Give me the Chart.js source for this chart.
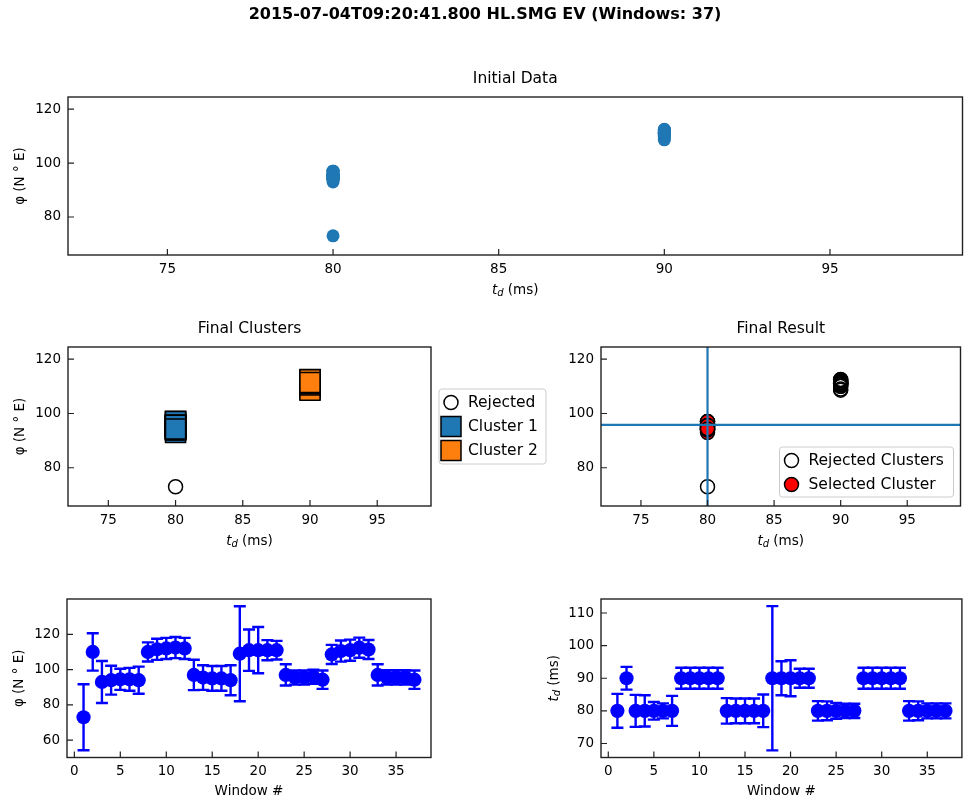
<!DOCTYPE html>
<html>
<head>
<meta charset="utf-8">
<title>HL.SMG EV windows</title>
<script src="https://cdn.jsdelivr.net/npm/chart.js@4.4.1/dist/chart.umd.min.js"></script>
<style>
  html, body { margin: 0; background: #fff; }
  #figure { position: relative; width: 969px; height: 800px; overflow: hidden; }
  #figure canvas { position: absolute; }
</style>
</head>
<body>
<div id="figure">
  <canvas id="initialChart" width="969" height="310" style="left:0;top:0"></canvas>
  <canvas id="clustersChart" width="560" height="250" style="left:0;top:310px"></canvas>
  <canvas id="resultChart" width="429" height="250" style="left:540px;top:310px"></canvas>
  <canvas id="phiChart" width="440" height="240" style="left:0;top:560px"></canvas>
  <canvas id="tdChart" width="429" height="240" style="left:540px;top:560px"></canvas>
</div>
<script>
// values per analysis window
const windows = [1, 2, 3, 4, 5, 6, 7, 8, 9, 10, 11, 12, 13, 14, 15, 16, 17, 18, 19, 20,
  21, 22, 23, 24, 25, 26, 27, 28, 29, 30, 31, 32, 33, 34, 35, 36, 37];
const phi = [73, 110, 93, 94, 94.5, 94.5, 94, 110, 111.5, 112, 112.5, 112, 97, 95.5, 95, 95, 94,
  109, 111, 111, 111, 111, 97, 95.5, 95.5, 96, 94.3, 108.6, 110.5, 111, 112.4, 111.4,
  97, 95.6, 95.6, 95.6, 94.3];
const phiErr = [18.7, 10.6, 11.9, 8.2, 6, 6.5, 7.7, 5.4, 6, 6, 6, 6, 8.6, 7, 7, 7, 8.5,
  26.9, 11.7, 13.1, 5.7, 5.3, 6, 4, 4, 4, 5.2, 5.4, 6, 6, 5.7, 5.4, 6, 4, 4, 4, 5.2];
const td = [80, 90, 80, 80, 80, 80, 80, 90, 90, 90, 90, 90, 80, 80, 80, 80, 80,
  90, 90, 90, 90, 90, 80, 80, 80, 80, 80, 90, 90, 90, 90, 90, 80, 80, 80, 80, 80];
const tdErr = [5.2, 3.5, 4.9, 4.8, 2.7, 2.3, 4.6, 3.2, 3.2, 3.2, 3.2, 3.2, 3.9, 3.8, 3.8, 3.8, 5,
  22.1, 5.2, 5.5, 2.9, 2.9, 3, 2.9, 2.4, 2.2, 2.2, 3.2, 3.2, 3.2, 3.2, 3.2, 3, 2.9, 2.3, 2.3, 2.3];
// 0 = rejected, 1 / 2 = cluster number
const clusterOf = [0, 2, 1, 1, 1, 1, 1, 2, 2, 2, 2, 2, 1, 1, 1, 1, 1,
  2, 2, 2, 2, 2, 1, 1, 1, 1, 1, 2, 2, 2, 2, 2, 1, 1, 1, 1, 1];
const selectedCluster = 1;
const selectedTd = 80;
const selectedPhi = 95.8;

// axes
const tdTicks = [75, 80, 85, 90, 95];
const phiTicks = [80, 100, 120];
const windowTicks = [0, 5, 10, 15, 20, 25, 30, 35];
const phiWindowTicks = [60, 80, 100, 120];
const tdWindowTicks = [70, 80, 90, 100, 110];
const tdRange = [72, 99];
const phiRange = [65.9, 124.5];
const windowRange = [-0.8, 38.8];
const phiWindowRange = [50.2, 140.0];
const tdWindowRange = [65.7, 114.3];

const figTitle = '2015-07-04T09:20:41.800 HL.SMG EV (Windows: 37)';

const FAMILY = '"DejaVu Sans", sans-serif';
const BLUE = '#1f77b4';
const ORANGE = '#ff7f0e';

function points(keep) {
  const out = [];
  td.forEach((t, i) => { if (keep(i)) out.push({ x: t, y: phi[i] }); });
  return out;
}

function windowPoints(values) {
  return windows.map((w, i) => ({ x: w, y: values[i] }));
}

function axis(position, range, tickValues, fit) {
  return {
    type: 'linear',
    position: position,
    min: range[0],
    max: range[1],
    bounds: 'data',
    afterBuildTicks: s => { s.ticks = tickValues.map(v => ({ value: v })); },
    afterFit: fit,
    grid: { display: false, drawTicks: false },
    border: { display: false },
    ticks: {
      color: '#000',
      padding: position === 'bottom' ? 6 : 7,
      autoSkip: false,
      maxRotation: 0,
      font: { family: FAMILY, size: 13.5 }
    }
  };
}

function panelOptions(p) {
  return {
    responsive: false,
    animation: false,
    events: [],
    layout: { padding: { top: p.top, right: p.right, bottom: 0, left: 0 } },
    plugins: {
      legend: { display: false },
      tooltip: { enabled: false },
      title: { display: false }
    },
    scales: {
      x: axis('bottom', p.xRange, p.xTicks, s => { s.height = p.xH; }),
      y: axis('left', p.yRange, p.yTicks, s => { s.width = p.yW; })
    }
  };
}

// t_d with italic t and subscript d
function drawTdLabel(ctx, cx, cy) {
  const normal = '13.5px ' + FAMILY, ital = 'italic 13.5px ' + FAMILY, sub = 'italic 10px ' + FAMILY;
  ctx.font = ital; const w1 = ctx.measureText('t').width;
  ctx.font = sub; const w2 = ctx.measureText('d').width;
  ctx.font = normal; const w3 = ctx.measureText(' (ms)').width;
  let x = cx - (w1 + w2 + w3) / 2;
  const base = cy + 4.5;
  ctx.textAlign = 'left';
  ctx.textBaseline = 'alphabetic';
  ctx.font = ital; ctx.fillText('t', x, base); x += w1;
  ctx.font = sub; ctx.fillText('d', x, base + 2.5); x += w2;
  ctx.font = normal; ctx.fillText(' (ms)', x, base);
}

function drawLabel(ctx, text, cx, cy) {
  if (text === 'td') { drawTdLabel(ctx, cx, cy); return; }
  ctx.font = '13.5px ' + FAMILY;
  ctx.textAlign = 'center';
  ctx.textBaseline = 'middle';
  ctx.fillText(text, cx, cy);
}

function drawMarker(ctx, ds, x, y) {
  ctx.fillStyle = ds.pointBackgroundColor;
  ctx.strokeStyle = ds.pointBorderColor;
  ctx.lineWidth = ds.pointBorderWidth;
  ctx.beginPath();
  if (ds.pointStyle === 'rect') ctx.rect(x - 10, y - 10, 20, 20);
  else ctx.arc(x, y, 7, 0, Math.PI * 2);
  ctx.fill();
  ctx.stroke();
}

// frame, inward ticks, titles, error bars, legend
function decor(cfg) {
  return {
    id: 'decor',
    beforeDatasetsDraw(chart) {
      if (!cfg.errors) return;
      const { ctx, scales } = chart;
      const e = cfg.errors;
      ctx.save();
      ctx.strokeStyle = e.color;
      ctx.lineWidth = 2.4;
      e.xs.forEach((v, i) => {
        const px = scales.x.getPixelForValue(v);
        const lo = scales.y.getPixelForValue(e.ys[i] - e.err[i]);
        const hi = scales.y.getPixelForValue(e.ys[i] + e.err[i]);
        ctx.beginPath();
        ctx.moveTo(px, lo); ctx.lineTo(px, hi);
        ctx.moveTo(px - 6, lo); ctx.lineTo(px + 6, lo);
        ctx.moveTo(px - 6, hi); ctx.lineTo(px + 6, hi);
        ctx.stroke();
      });
      ctx.restore();
    },
    afterDatasetsDraw(chart) {
      if (!cfg.cross) return;
      const { ctx, chartArea: a, scales } = chart;
      const px = scales.x.getPixelForValue(cfg.cross.x);
      const py = scales.y.getPixelForValue(cfg.cross.y);
      ctx.save();
      ctx.strokeStyle = BLUE;
      ctx.lineWidth = 2.2;
      ctx.beginPath();
      ctx.moveTo(px, a.top); ctx.lineTo(px, a.bottom);
      ctx.moveTo(a.left, py); ctx.lineTo(a.right, py);
      ctx.stroke();
      ctx.restore();
    },
    afterDraw(chart) {
      const { ctx, chartArea: a, scales } = chart;
      ctx.save();
      ctx.strokeStyle = '#222';
      ctx.lineWidth = 1.4;
      ctx.strokeRect(a.left, a.top, a.right - a.left, a.bottom - a.top);
      ctx.lineWidth = 1.2;
      ctx.beginPath();
      scales.x.ticks.forEach(t => {
        const px = scales.x.getPixelForValue(t.value);
        ctx.moveTo(px, a.bottom); ctx.lineTo(px, a.bottom - 6);
      });
      scales.y.ticks.forEach(t => {
        const py = scales.y.getPixelForValue(t.value);
        ctx.moveTo(a.left, py); ctx.lineTo(a.left + 6, py);
      });
      ctx.stroke();

      ctx.fillStyle = '#000';
      const midX = (a.left + a.right) / 2, midY = (a.top + a.bottom) / 2;
      if (cfg.figTitle) {
        ctx.font = 'bold 16px ' + FAMILY;
        ctx.textAlign = 'center';
        ctx.textBaseline = 'middle';
        ctx.fillText(cfg.figTitle, 485, 15);
      }
      if (cfg.title) {
        ctx.font = '15.5px ' + FAMILY;
        ctx.textAlign = 'center';
        ctx.textBaseline = 'middle';
        ctx.fillText(cfg.title, midX, a.top - 18);
      }
      if (cfg.xLabel) drawLabel(ctx, cfg.xLabel, midX, a.bottom + 34);
      if (cfg.yLabel) {
        ctx.save();
        ctx.translate(a.left - 48, midY);
        ctx.rotate(-Math.PI / 2);
        drawLabel(ctx, cfg.yLabel, 0, 0);
        ctx.restore();
      }
      if (cfg.legendBox) {
        const b = cfg.legendBox(a);
        ctx.fillStyle = 'rgba(255,255,255,0.8)';
        ctx.strokeStyle = '#cccccc';
        ctx.lineWidth = 1;
        ctx.beginPath();
        ctx.roundRect(b.x, b.y, b.w, b.h, 3);
        ctx.fill();
        ctx.stroke();
        const entries = chart.data.datasets.filter(d => d.label);
        entries.forEach((ds, i) => {
          const y = b.y + 13.5 + i * 24;
          drawMarker(ctx, ds, b.x + 12, y);
          ctx.fillStyle = '#000';
          ctx.font = '15.5px ' + FAMILY;
          ctx.textAlign = 'left';
          ctx.textBaseline = 'middle';
          ctx.fillText(ds.label, b.x + 29, y);
        });
      }
      ctx.restore();
    }
  };
}

// Initial Data
new Chart(document.getElementById('initialChart'), {
  type: 'scatter',
  data: {
    datasets: [{
      data: points(() => true),
      pointRadius: 6.5,
      pointBorderWidth: 0,
      pointBackgroundColor: BLUE,
      pointBorderColor: BLUE
    }]
  },
  options: panelOptions({ top: 97, right: 5, yW: 68, xH: 55,
    xRange: tdRange, yRange: phiRange, xTicks: tdTicks, yTicks: phiTicks }),
  plugins: [decor({ figTitle: figTitle, title: 'Initial Data', xLabel: 'td', yLabel: 'φ (N ° E)' })]
});

// Final Clusters
new Chart(document.getElementById('clustersChart'), {
  type: 'scatter',
  data: {
    datasets: [
      {
        label: 'Rejected',
        data: points(i => clusterOf[i] === 0),
        pointStyle: 'circle',
        pointRadius: 7,
        pointBorderWidth: 1.5,
        pointBackgroundColor: 'rgba(0,0,0,0)',
        pointBorderColor: '#000'
      },
      {
        label: 'Cluster 1',
        data: points(i => clusterOf[i] === 1),
        pointStyle: 'rect',
        pointRadius: 14.2,
        pointBorderWidth: 1.5,
        pointBackgroundColor: BLUE,
        pointBorderColor: '#000'
      },
      {
        label: 'Cluster 2',
        data: points(i => clusterOf[i] === 2),
        pointStyle: 'rect',
        pointRadius: 14.2,
        pointBorderWidth: 1.5,
        pointBackgroundColor: ORANGE,
        pointBorderColor: '#000'
      }
    ]
  },
  options: panelOptions({ top: 37, right: 129, yW: 68, xH: 54,
    xRange: tdRange, yRange: phiRange, xTicks: tdTicks, yTicks: phiTicks }),
  plugins: [decor({ title: 'Final Clusters', xLabel: 'td', yLabel: 'φ (N ° E)',
    legendBox: a => ({ x: a.right + 8, y: a.top + 42, w: 107, h: 75 }) })]
});

// Final Result
new Chart(document.getElementById('resultChart'), {
  type: 'scatter',
  data: {
    datasets: [
      {
        label: 'Rejected Clusters',
        data: points(i => clusterOf[i] !== selectedCluster),
        pointStyle: 'circle',
        pointRadius: 7,
        pointBorderWidth: 1.5,
        pointBackgroundColor: 'rgba(0,0,0,0)',
        pointBorderColor: '#000'
      },
      {
        label: 'Selected Cluster',
        data: points(i => clusterOf[i] === selectedCluster),
        pointStyle: 'circle',
        pointRadius: 7,
        pointBorderWidth: 1.5,
        pointBackgroundColor: '#ff0000',
        pointBorderColor: '#000'
      }
    ]
  },
  options: panelOptions({ top: 37, right: 5, yW: 61, xH: 54,
    xRange: tdRange, yRange: phiRange, xTicks: tdTicks, yTicks: phiTicks }),
  plugins: [decor({ title: 'Final Result', xLabel: 'td',
    cross: { x: selectedTd, y: selectedPhi },
    legendBox: a => ({ x: a.right - 181, y: a.bottom - 59, w: 174, h: 50 }) })]
});

// phi per window
new Chart(document.getElementById('phiChart'), {
  type: 'scatter',
  data: {
    datasets: [{
      data: windowPoints(phi),
      pointRadius: 7.1,
      pointBorderWidth: 0,
      pointBackgroundColor: '#0000ff',
      pointBorderColor: '#0000ff'
    }]
  },
  options: panelOptions({ top: 39, right: 9, yW: 67, xH: 42.5,
    xRange: windowRange, yRange: phiWindowRange, xTicks: windowTicks, yTicks: phiWindowTicks }),
  plugins: [decor({ xLabel: 'Window #', yLabel: 'φ (N ° E)',
    errors: { xs: windows, ys: phi, err: phiErr, color: '#0000ff' } })]
});

// t_d per window
new Chart(document.getElementById('tdChart'), {
  type: 'scatter',
  data: {
    datasets: [{
      data: windowPoints(td),
      pointRadius: 7.1,
      pointBorderWidth: 0,
      pointBackgroundColor: '#0000ff',
      pointBorderColor: '#0000ff'
    }]
  },
  options: panelOptions({ top: 39, right: 5, yW: 61, xH: 42.5,
    xRange: windowRange, yRange: tdWindowRange, xTicks: windowTicks, yTicks: tdWindowTicks }),
  plugins: [decor({ xLabel: 'Window #', yLabel: 'td',
    errors: { xs: windows, ys: td, err: tdErr, color: '#0000ff' } })]
});
</script>
</body>
</html>
